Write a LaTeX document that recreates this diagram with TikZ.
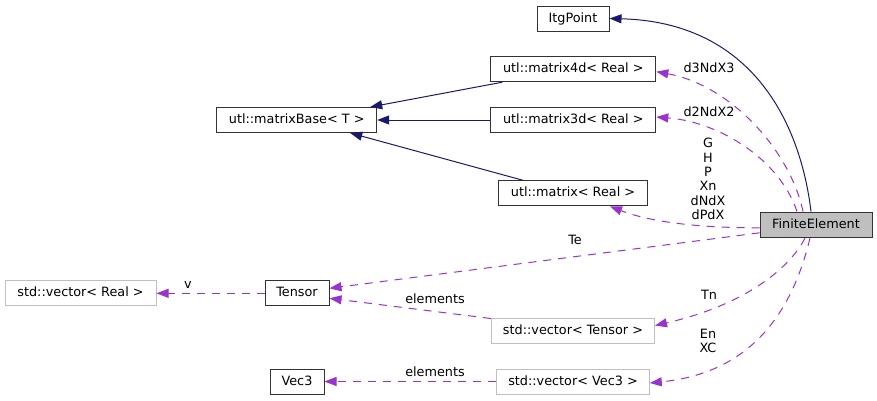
\documentclass[tikz,border=0pt]{standalone}
\usepackage{fontspec}
\setmainfont{DejaVu Sans}
\usetikzlibrary{arrows.meta}
\definecolor{navyedge}{HTML}{191970}
\definecolor{purpedge}{HTML}{9A32CD}
\definecolor{grayborder}{HTML}{BFBFBF}
\definecolor{boxborder}{HTML}{333333}
\tikzset{
  x=1pt, y=-1pt,
  every node/.style={font=\fontsize{12.8}{14.4}\selectfont, inner sep=0pt},
  cls/.style={draw=boxborder, line width=1pt, fill=white, minimum height=25pt, text height=9.5pt, text depth=2.5pt},
  ext/.style={draw=grayborder, line width=1pt, fill=white, minimum height=25pt, text height=9.5pt, text depth=2.5pt},
  cur/.style={draw=boxborder, line width=1pt, fill=grayborder, minimum height=25.5pt, text height=9.5pt, text depth=2.5pt},
  inh/.style={draw=navyedge, line width=1pt, -{Triangle[length=12pt,width=9pt]}},
  use/.style={draw=purpedge, line width=1pt, dash pattern=on 8pt off 7pt, -{Triangle[length=12pt,width=9pt]}},
  lbl/.style={align=center, text=black}
}
\begin{document}
\begin{tikzpicture}
\useasboundingbox (0,0) rectangle (877,400);
% nodes
\node[cls, minimum width=72pt]  (itg) at (573,18.5) {ItgPoint};
\node[cls, minimum width=165pt] (m4)  at (573.3,69.2) {utl::matrix4d< Real >};
\node[cls, minimum width=165pt] (m3)  at (573.3,120) {utl::matrix3d< Real >};
\node[cls, minimum width=160pt] (mb)  at (296.7,120) {utl::matrixBase< T >};
\node[cls, minimum width=149pt] (m)   at (573,193.3) {utl::matrix< Real >};
\node[cur, minimum width=112pt] (fe)  at (816,224.8) {FiniteElement};
\node[cls, minimum width=64pt]  (tensor) at (297,293.3) {Tensor};
\node[ext, minimum width=151pt] (vr)  at (80.5,293.3) {std::vector< Real >};
\node[ext, minimum width=163pt] (vt)  at (573,330.5) {std::vector< Tensor >};
\node[cls, minimum width=54pt]  (vec3) at (297,381.5) {Vec3};
\node[ext, minimum width=152.6pt] (vv) at (573,381.5) {std::vector< Vec3 >};

% inheritance edges
\draw[inh] ([xshift=12pt]m4.south west) -- ([xshift=-7pt]mb.north east);
\draw[inh] (m3.west) -- (mb.east);
\draw[inh] ([xshift=25pt]m.north west) -- ([xshift=-27pt]mb.south east);
\draw[inh] ([xshift=-5pt]fe.north) .. controls (800,120) and (750,22) .. (itg.east);

% usage edges
\draw[use] ([xshift=-13pt]fe.north) .. controls (790,150) and (730,85) .. ([yshift=-2.5pt]m4.east);
\draw[use] ([xshift=-19pt]fe.north) .. controls (780,160) and (720,122) .. ([yshift=3pt]m3.east);
\draw[use] ([yshift=-3pt]fe.west) .. controls (700,228) and (650,222) .. ([xshift=37pt]m.south);
\draw[use] ([yshift=-8pt]fe.west) -- ([yshift=5pt]tensor.east);
\draw[use] ([xshift=-11pt]fe.south) .. controls (790,268) and (745,305) .. ([yshift=5pt]vt.east);
\draw[use] ([xshift=-6pt]fe.south) .. controls (795,300) and (760,372) .. ([yshift=-1.5pt]vv.east);
\draw[use] ([yshift=12pt]vt.west) -- ([yshift=-5pt]tensor.east);
\draw[use] (vv.west) -- (vec3.east);
\draw[use] (tensor.west) -- (vr.east);

% labels
\node[lbl] (l1) at (709,68) {d3NdX3};
\node[lbl] (l2) at (709,112) {d2NdX2};
\node[lbl] (l3) at (708,179) {G\\H\\P\\Xn\\dNdX\\dPdX};
\node[lbl] (l4) at (575,240) {Te};
\node[lbl] (l5) at (709,295) {Tn};
\node[lbl] (l6) at (708,341) {En\\XC};
\node[lbl] (l7) at (435,299) {elements};
\node[lbl] (l8) at (435,372) {elements};
\node[lbl] (l9) at (188,285) {v};
\end{tikzpicture}
\end{document}
